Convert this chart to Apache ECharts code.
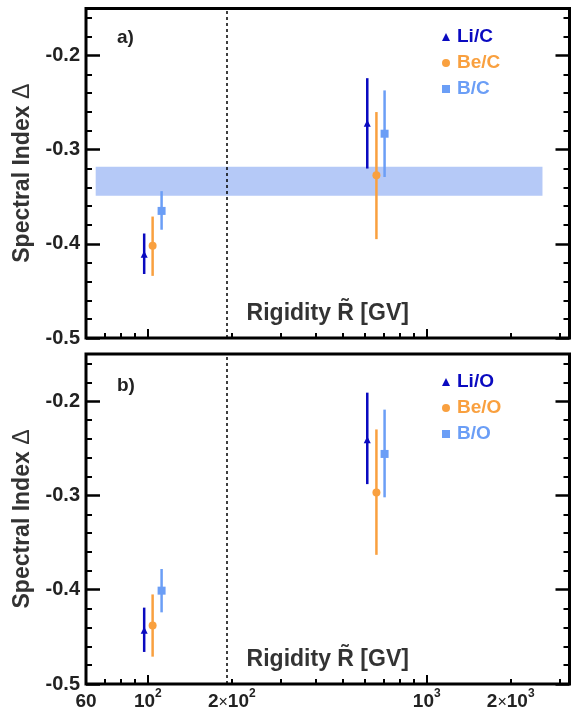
<!DOCTYPE html>
<html>
<head>
<meta charset="utf-8">
<script src="https://cdn.jsdelivr.net/npm/echarts@6/dist/echarts.min.js"></script>
<style>
html, body { margin: 0; padding: 0; background: #fff; }
#main { width: 571px; height: 717px; }
</style>
</head>
<body>
<div id="main"></div>
<script>
// rigidity (GV) where each species is plotted, low and high range
var liR = [97, 612];
var beR = [104, 660];
var bR  = [112, 706];

// a) ratios to C : value, lower and upper end of the error bar
var liC   = [-0.411, -0.272];
var liCLo = [-0.432, -0.320];
var liCHi = [-0.389, -0.224];
var beC   = [-0.402, -0.327];
var beCLo = [-0.434, -0.395];
var beCHi = [-0.371, -0.260];
var bC    = [-0.365, -0.283];
var bCLo  = [-0.385, -0.329];
var bCHi  = [-0.344, -0.237];

// b) ratios to O
var liO   = [-0.443, -0.241];
var liOLo = [-0.466, -0.288];
var liOHi = [-0.419, -0.191];
var beO   = [-0.438, -0.297];
var beOLo = [-0.471, -0.363];
var beOHi = [-0.405, -0.230];
var bO    = [-0.401, -0.256];
var bOLo  = [-0.424, -0.302];
var bOHi  = [-0.378, -0.209];

// shaded band in a)
var bandR = [65, 2600];
var bandY = [-0.349, -0.318];
// dashed vertical line
var breakR = 192;

// ticks and labels
var xMajor = [100, 1000];
var xMinor = [70, 80, 90, 200, 300, 400, 500, 600, 700, 800, 900, 2000, 3000];
var xLabelValues = [60, 100, 200, 1000, 2000];
var xLabelTexts = ['{n|60}', '{n|10}{s|2}', '{n|2}{x|×}{n|10}{s|2}', '{n|10}{s|3}', '{n|2}{x|×}{n|10}{s|3}'];
var yMajor = [-0.5, -0.4, -0.3, -0.2];
var yMinor = [-0.48, -0.46, -0.44, -0.42, -0.38, -0.36, -0.34, -0.32,
              -0.28, -0.26, -0.24, -0.22, -0.18, -0.16];
var yLabels = ['-0.5', '-0.4', '-0.3', '-0.2'];

var liColor = '#0a0ac0';
var beColor = '#f9a03f';
var bColor  = '#6b9ef6';
var bandColor = '#b5c9f7';
var font = '"Liberation Sans", Arial, sans-serif';

function pickLabel(v, values, texts) {
	var best = 0;
	for (var i = 1; i < values.length; i++) {
		if (Math.abs(v - values[i]) < Math.abs(v - values[best])) best = i;
	}
	return texts[best];
}

function logOf(list) {
	return list.map(function (t) { return Math.log(t); });
}

// tiny shallow merge, like jquery's
var $ = {extend: function (a, b) {
	var o = {};
	for (var k in a) o[k] = a[k];
	for (var k2 in b) o[k2] = b[k2];
	return o;
}};

function xAxes(g, withLabels) {
	return [{
		type: 'log', logBase: 10, gridIndex: g, min: 60, max: 3250, position: 'bottom',
		axisLine: {show: false}, splitLine: {show: false},
		axisTick: {show: true, inside: true, length: 9, customValues: xMajor, lineStyle: {color: '#000', width: 2}},
		axisLabel: {
			show: withLabels, customValues: xLabelValues, margin: 8,
			color: '#222', fontSize: 19, fontWeight: 'bold', fontFamily: font,
			formatter: function (v) { return pickLabel(Math.log(v), logOf(xLabelValues), xLabelTexts); },
			rich: {
				n: {fontSize: 19, fontWeight: 'bold', fontFamily: font, color: '#222', verticalAlign: 'bottom', lineHeight: 19},
				s: {fontSize: 12, fontWeight: 'bold', fontFamily: font, color: '#222', verticalAlign: 'bottom', lineHeight: 12, padding: [0, 0, 11, 0]},
				x: {fontSize: 16, fontWeight: 'normal', fontFamily: font, color: '#222', verticalAlign: 'bottom', lineHeight: 18}
			}
		},
		name: 'Rigidity R\u0303 [GV]', nameLocation: 'middle', nameGap: -36,
		nameTextStyle: {fontSize: 23, fontWeight: 'bold', fontFamily: font, color: '#333'}
	}, {
		type: 'log', logBase: 10, gridIndex: g, min: 60, max: 3250, position: 'bottom',
		axisLine: {show: false}, splitLine: {show: false}, axisLabel: {show: false},
		axisTick: {show: true, inside: true, length: 5, customValues: xMinor, lineStyle: {color: '#000', width: 2}}
	}];
}

function yAxes(g) {
	var base = {type: 'value', gridIndex: g, min: -0.5, max: -0.15, axisLine: {show: false}, splitLine: {show: false}};
	var list = [];
	var sides = ['left', 'right'];
	for (var i = 0; i < 2; i++) {
		list.push($.extend(base, {
			position: sides[i],
			axisTick: {show: true, inside: true, length: 14, customValues: yMajor, lineStyle: {color: '#000', width: 2.5}},
			axisLabel: i == 0 ? {
				show: true, customValues: yMajor, margin: 6,
				color: '#222', fontSize: 20, fontWeight: 'bold', fontFamily: font,
				formatter: function (v) { return pickLabel(v, yMajor, yLabels); }
			} : {show: false},
			name: i == 0 ? 'Spectral Index {d|\u0394}' : '',
			nameLocation: 'middle', nameGap: 52,
			nameTextStyle: {fontSize: 23, fontWeight: 'bold', fontFamily: font, color: '#333',
				rich: {d: {fontSize: 23, fontWeight: 'normal', fontFamily: font, color: '#333'}}}
		}));
		list.push($.extend(base, {
			position: sides[i],
			axisTick: {show: true, inside: true, length: 6, customValues: yMinor, lineStyle: {color: '#000', width: 2}},
			axisLabel: {show: false}
		}));
	}
	return list;
}

function renderErr(params, api) {
	var top = api.coord([api.value(0), api.value(2)]);
	var bot = api.coord([api.value(0), api.value(1)]);
	return {
		type: 'line',
		shape: {x1: top[0], y1: top[1], x2: bot[0], y2: bot[1]},
		style: {stroke: api.visual('color'), lineWidth: 2.5}
	};
}

function renderBand(params, api) {
	var p0 = api.coord([api.value(0), api.value(3)]);
	var p1 = api.coord([api.value(1), api.value(2)]);
	return {
		type: 'rect',
		shape: {x: p0[0], y: p0[1], width: p1[0] - p0[0], height: p1[1] - p0[1]},
		style: {fill: api.visual('color')}
	};
}

function errSeries(g, r, lo, hi, color) {
	return {
		type: 'custom', xAxisIndex: 2 * g, yAxisIndex: 4 * g, renderItem: renderErr,
		itemStyle: {color: color}, z: 3, silent: true,
		encode: {x: 0, y: [1, 2]},
		data: r.map(function (x, i) { return [x, lo[i], hi[i]]; })
	};
}

function pointSeries(g, name, r, v, color, symbol, size) {
	return {
		type: 'scatter', name: name, xAxisIndex: 2 * g, yAxisIndex: 4 * g,
		symbol: symbol, symbolSize: size, itemStyle: {color: color, opacity: 1}, z: 4,
		data: r.map(function (x, i) { return [x, v[i]]; })
	};
}

function breakLine(g) {
	return {
		type: 'custom', xAxisIndex: 2 * g, yAxisIndex: 4 * g, renderItem: function () { return null; },
		data: [], z: 2, silent: true,
		markLine: {
			silent: true, symbol: ['none', 'none'], label: {show: false},
			lineStyle: {color: '#000', type: [3, 3], width: 1.5},
			data: [{xAxis: breakR}]
		}
	};
}

function legendFor(top, names, colors, icons) {
	return {
		orient: 'vertical', left: 437, top: top, itemWidth: 8, itemHeight: 8, itemGap: 6,
		selectedMode: false,
		textStyle: {fontSize: 19, fontWeight: 'bold', fontFamily: font, lineHeight: 20, padding: [0, 0, 0, 2]},
		data: names.map(function (n, i) { return {name: n, icon: icons[i], textStyle: {color: colors[i]}}; })
	};
}

var myChart = echarts.init(document.getElementById('main'));

var option = {
	animation: false,
	backgroundColor: '#fff',
	title: [
		{text: 'a)', left: 117, top: 28, padding: 0, textStyle: {fontSize: 19, fontWeight: 'bold', fontFamily: font, color: '#222'}},
		{text: 'b)', left: 117, top: 376, padding: 0, textStyle: {fontSize: 19, fontWeight: 'bold', fontFamily: font, color: '#222'}}
	],
	legend: [
		legendFor(22, ['Li/C', 'Be/C', 'B/C'], [liColor, beColor, bColor], ['triangle', 'circle', 'rect']),
		legendFor(367, ['Li/O', 'Be/O', 'B/O'], [liColor, beColor, bColor], ['triangle', 'circle', 'rect'])
	],
	grid: [
		{left: 86, top: 8.5, width: 483.5, height: 329.5, show: true, borderColor: '#000', borderWidth: 3, backgroundColor: 'transparent'},
		{left: 86, top: 354, width: 483.5, height: 330, show: true, borderColor: '#000', borderWidth: 3, backgroundColor: 'transparent'}
	],
	xAxis: xAxes(0, false).concat(xAxes(1, true)),
	yAxis: yAxes(0).concat(yAxes(1)),
	series: [
		{
			type: 'custom', xAxisIndex: 0, yAxisIndex: 0, renderItem: renderBand,
			itemStyle: {color: bandColor}, z: 1, silent: true,
			encode: {x: [0, 1], y: [2, 3]},
			data: [[bandR[0], bandR[1], bandY[0], bandY[1]]]
		},
		breakLine(0),
		breakLine(1),
		errSeries(0, liR, liCLo, liCHi, liColor),
		errSeries(0, beR, beCLo, beCHi, beColor),
		errSeries(0, bR, bCLo, bCHi, bColor),
		pointSeries(0, 'Li/C', liR, liC, liColor, 'triangle', 7),
		pointSeries(0, 'Be/C', beR, beC, beColor, 'circle', 8),
		pointSeries(0, 'B/C', bR, bC, bColor, 'rect', 8),
		errSeries(1, liR, liOLo, liOHi, liColor),
		errSeries(1, beR, beOLo, beOHi, beColor),
		errSeries(1, bR, bOLo, bOHi, bColor),
		pointSeries(1, 'Li/O', liR, liO, liColor, 'triangle', 7),
		pointSeries(1, 'Be/O', beR, beO, beColor, 'circle', 8),
		pointSeries(1, 'B/O', bR, bO, bColor, 'rect', 8)
	]
};

myChart.setOption(option);
</script>
</body>
</html>
